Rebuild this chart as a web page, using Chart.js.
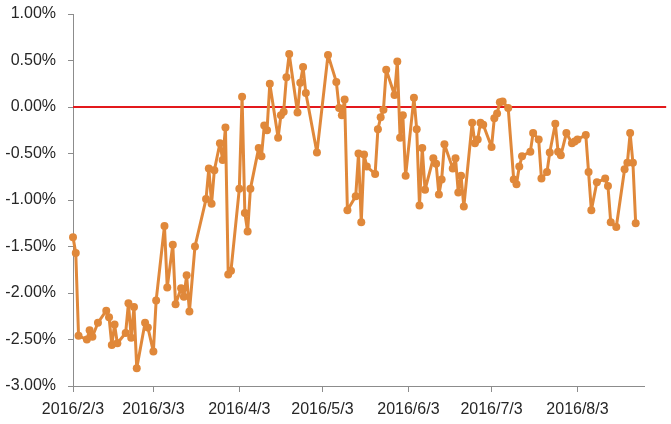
<!DOCTYPE html>
<html><head><meta charset="utf-8">
<script src="https://cdn.jsdelivr.net/npm/chart.js@4.4.0/dist/chart.umd.min.js"></script>
<style>html,body{margin:0;padding:0;background:#fff;}#wrap{width:671px;height:424px;position:relative;}</style>
</head><body><div id="wrap"><canvas id="c"></canvas></div>
<script>
const startDate = '2016-02-03';
const dates = ['2016-02-03','2016-02-04','2016-02-05','2016-02-08','2016-02-09','2016-02-10','2016-02-12','2016-02-15','2016-02-16','2016-02-17','2016-02-18','2016-02-19','2016-02-22','2016-02-23','2016-02-24','2016-02-25','2016-02-26','2016-02-29','2016-03-01','2016-03-03','2016-03-04','2016-03-07','2016-03-08','2016-03-10','2016-03-11','2016-03-13','2016-03-14','2016-03-15','2016-03-16','2016-03-18','2016-03-22','2016-03-23','2016-03-24','2016-03-25','2016-03-27','2016-03-28','2016-03-29','2016-03-30','2016-03-31','2016-04-03','2016-04-04','2016-04-05','2016-04-06','2016-04-07','2016-04-10','2016-04-11','2016-04-12','2016-04-13','2016-04-14','2016-04-17','2016-04-18','2016-04-19','2016-04-20','2016-04-21','2016-04-24','2016-04-25','2016-04-26','2016-04-27','2016-05-01','2016-05-05','2016-05-08','2016-05-09','2016-05-10','2016-05-11','2016-05-12','2016-05-15','2016-05-16','2016-05-17','2016-05-18','2016-05-19','2016-05-22','2016-05-23','2016-05-24','2016-05-25','2016-05-26','2016-05-29','2016-05-30','2016-05-31','2016-06-01','2016-06-02','2016-06-05','2016-06-06','2016-06-07','2016-06-08','2016-06-09','2016-06-12','2016-06-13','2016-06-14','2016-06-15','2016-06-16','2016-06-19','2016-06-20','2016-06-21','2016-06-22','2016-06-23','2016-06-26','2016-06-27','2016-06-28','2016-06-29','2016-06-30','2016-07-03','2016-07-04','2016-07-05','2016-07-06','2016-07-07','2016-07-09','2016-07-11','2016-07-12','2016-07-13','2016-07-14','2016-07-17','2016-07-18','2016-07-20','2016-07-21','2016-07-23','2016-07-24','2016-07-26','2016-07-27','2016-07-28','2016-07-30','2016-08-01','2016-08-02','2016-08-03','2016-08-06','2016-08-07','2016-08-08','2016-08-10','2016-08-13','2016-08-14','2016-08-15','2016-08-17','2016-08-20','2016-08-21','2016-08-22','2016-08-23','2016-08-24'];
const values = [-1.40,-1.57,-2.46,-2.50,-2.40,-2.47,-2.32,-2.19,-2.26,-2.56,-2.34,-2.54,-2.43,-2.11,-2.48,-2.15,-2.81,-2.32,-2.37,-2.63,-2.08,-1.28,-1.94,-1.48,-2.12,-1.95,-2.04,-1.81,-2.20,-1.50,-0.99,-0.66,-1.04,-0.68,-0.39,-0.57,-0.22,-1.80,-1.76,-0.88,0.11,-1.14,-1.34,-0.88,-0.44,-0.53,-0.20,-0.25,0.25,-0.33,-0.09,-0.05,0.32,0.57,-0.06,0.26,0.43,0.15,-0.49,0.56,0.27,-0.01,-0.09,0.08,-1.11,-0.96,-0.50,-1.24,-0.51,-0.64,-0.72,-0.24,-0.11,-0.03,0.40,0.13,0.49,-0.33,-0.09,-0.74,0.10,-0.24,-1.06,-0.44,-0.89,-0.55,-0.61,-0.94,-0.78,-0.40,-0.66,-0.55,-0.92,-0.74,-1.07,-0.17,-0.39,-0.35,-0.17,-0.19,-0.43,-0.12,-0.07,0.05,0.06,-0.01,-0.78,-0.83,-0.64,-0.53,-0.48,-0.28,-0.35,-0.77,-0.70,-0.49,-0.18,-0.48,-0.52,-0.28,-0.39,-0.37,-0.35,-0.30,-0.70,-1.11,-0.81,-0.77,-0.85,-1.24,-1.29,-0.67,-0.60,-0.28,-0.60,-1.25];
const tickDates = ['2016-02-03','2016-03-03','2016-04-03','2016-05-03','2016-06-03','2016-07-03','2016-08-03'];
const tickLabels = ['2016/2/3','2016/3/3','2016/4/3','2016/5/3','2016/6/3','2016/7/3','2016/8/3'];
const axisEndDate = '2016-08-27';
const refLineDates = ['2016-02-03','2016-09-04'];
const refLineValues = [0, 0];
const yMin = -3, yMax = 1, yStep = 0.5;

function dayOf(s){const p=s.split('-').map(Number);const q=startDate.split('-').map(Number);return (Date.UTC(p[0],p[1]-1,p[2])-Date.UTC(q[0],q[1]-1,q[2]))/864e5;}
const tickDays = tickDates.map(dayOf);
const seriesPts = dates.map((d,i)=>({x:dayOf(d),y:values[i]}));
const refPts = refLineDates.map((d,i)=>({x:dayOf(d),y:refLineValues[i]}));

const ORANGE = '#E0883A';
const AXIS = '#8c8c8c';
const FONT = {family:"'Liberation Sans', Arial, sans-serif", size:16};

new Chart(document.getElementById('c'), {
  type:'line',
  data:{datasets:[
    {data:refPts, borderColor:'#E3191C', borderWidth:2, pointRadius:0, clip:false, order:2},
    {data:seriesPts, borderColor:ORANGE, backgroundColor:ORANGE, borderWidth:3, borderJoinStyle:'round', borderCapStyle:'round', pointRadius:4, pointBorderWidth:0, pointBackgroundColor:ORANGE, tension:0, order:1, clip:false}
  ]},
  options:{
    responsive:true, maintainAspectRatio:false, animation:false,
    layout:{padding:{top:14,right:27,bottom:0,left:0}},
    plugins:{legend:{display:false}, tooltip:{enabled:false}},
    scales:{
      x:{type:'linear', min:0, max:dayOf(axisEndDate),
        afterFit:(s)=>{s.height=38;},
        afterBuildTicks:(s)=>{s.ticks = tickDays.map(v=>({value:v}));},
        ticks:{autoSkip:false, maxRotation:0, minRotation:0, padding:8, color:'#262626', font:FONT,
          callback:(v)=>{const i=tickDays.indexOf(v);return i>=0?tickLabels[i]:'';}},
        grid:{drawOnChartArea:false, drawTicks:true, tickLength:6, color:AXIS},
        border:{color:AXIS, width:1}
      },
      y:{min:yMin, max:yMax,
        afterFit:(s)=>{s.width=73; s.paddingTop=0; s.paddingBottom=0;},
        ticks:{stepSize:yStep, padding:12, color:'#262626', font:FONT, callback:(v)=>v.toFixed(2)+'%'},
        grid:{drawOnChartArea:false, drawTicks:true, tickLength:5, color:AXIS},
        border:{color:AXIS, width:1}
      }
    }
  }
});
</script></body></html>
